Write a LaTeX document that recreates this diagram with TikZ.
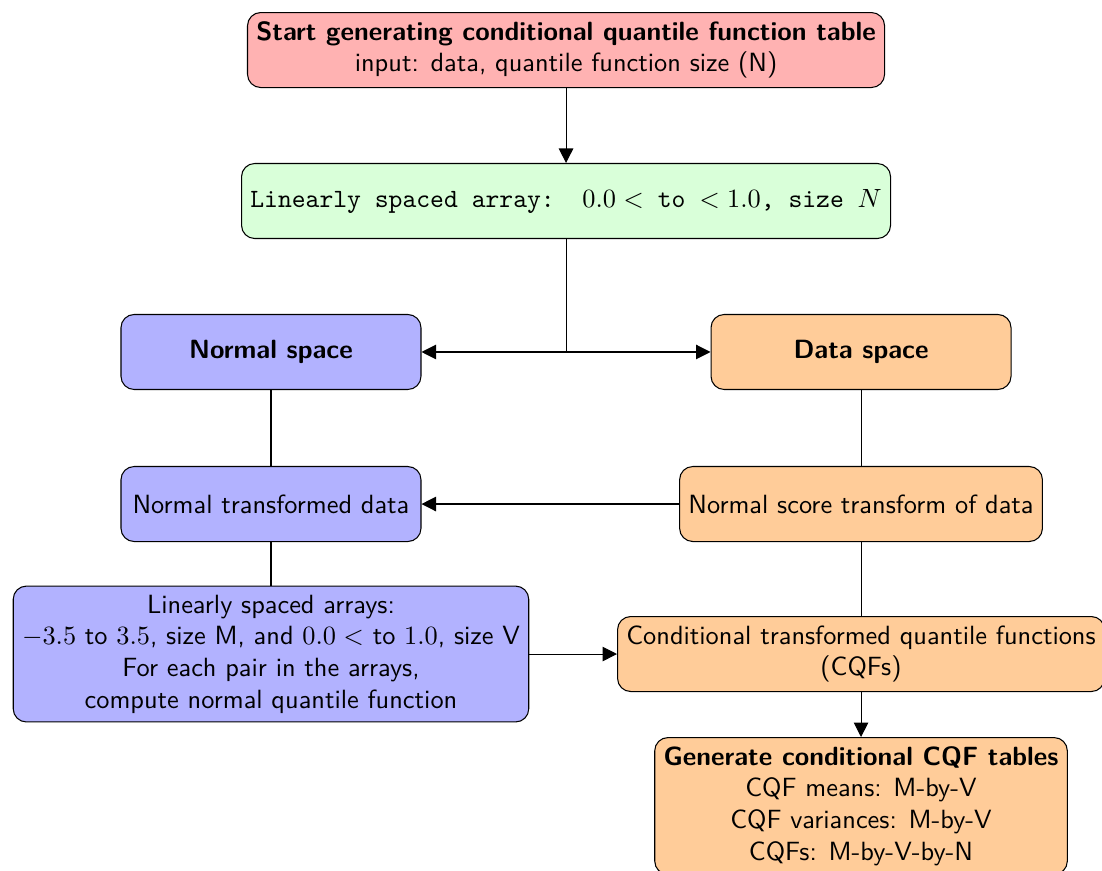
\documentclass[tikz,border=0pt]{standalone}
\usetikzlibrary{arrows.meta,positioning}

\tikzset{
  box/.style={draw, rounded corners=5pt, minimum height=1cm, minimum width=4cm,
              align=center, font=\sffamily},
  startbox/.style={box, fill=red!30},
  arraybox/.style={box, fill=green!15, font=\ttfamily},
  normbox/.style={box, fill=blue!30},
  databox/.style={box, fill=orange!40},
  arr/.style={-{Triangle[length=5.5pt,width=5.5pt]}},
  link/.style={draw}
}

\begin{document}
\begin{tikzpicture}
\useasboundingbox (0,0) rectangle (14.693,-11.6);

\node[startbox] (start) at (7.547,-0.667)
  {\textbf{Start generating conditional quantile function table}\\input: data, quantile function size (N)};

\node[arraybox] (lin) at (7.547,-2.68)
  {Linearly spaced array:\ \ $0.0 <$ to $< 1.0$, size $N$};

\node[normbox] (ns) at (3.613,-4.693) {\textbf{Normal space}};
\node[databox] (ds) at (11.48,-4.693) {\textbf{Data space}};

\node[normbox] (ntd) at (3.613,-6.72) {Normal transformed data};
\node[databox] (nst) at (11.48,-6.72) {Normal score transform of data};

\node[normbox] (arrays) at (3.613,-8.72)
  {Linearly spaced arrays:\\
   $-3.5$ to $3.5$, size M, and $0.0 <$ to $1.0$, size V\\
   For each pair in the arrays,\\
   compute normal quantile function};

\node[databox] (cqf) at (11.48,-8.72)
  {Conditional transformed quantile functions\\(CQFs)};

\node[databox, anchor=north] (tables) at (11.48,-9.827)
  {\textbf{Generate conditional CQF tables}\\
   CQF means: M-by-V\\
   CQF variances: M-by-V\\
   CQFs: M-by-V-by-N};

% flow from the start to the linear array, then split into both spaces
\draw[arr] (start) -- (lin);
\coordinate (split) at (lin.south |- ns.east);
\draw (lin.south) -- (split);
\draw[arr] (split) -- (ns.east);
\draw[arr] (split) -- (ds.west);

% normal-space column
\draw (ns) -- (ntd);
\draw (ntd) -- (arrays);

% data-space column
\draw (ds) -- (nst);
\draw[arr] (nst) -- (ntd);
\draw (nst) -- (cqf);
\draw[arr] (arrays.east |- cqf.west) -- (cqf.west);
\draw[arr] (cqf) -- (tables);
\end{tikzpicture}
\end{document}
